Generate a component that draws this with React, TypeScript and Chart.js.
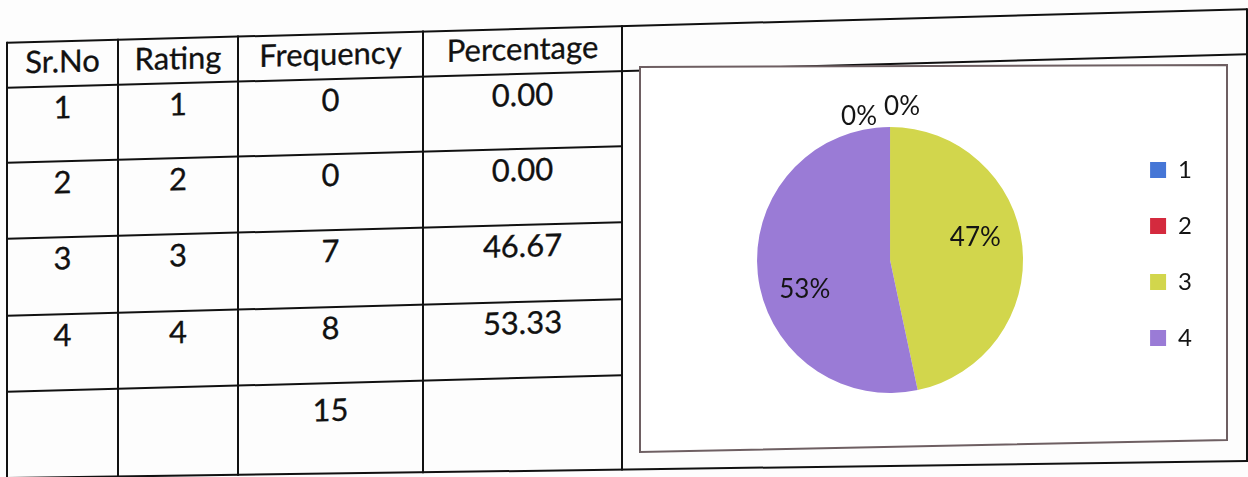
import React, { useEffect, useRef } from 'react';
import { Chart, registerables } from 'chart.js';

Chart.register(...registerables);

// ---------- data ----------
const headers = ['Sr.No', 'Rating', 'Frequency', 'Percentage'];
const srNos = ['1', '2', '3', '4', ''];
const ratings = ['1', '2', '3', '4', ''];
const frequencies = ['0', '0', '7', '8', '15'];
const percentages = ['0.00', '0.00', '46.67', '53.33', ''];

const pieLabels = ['1', '2', '3', '4'];
const pieValues = [0, 0, 7, 8];
const pieColors = ['#4576d6', '#d42a3e', '#d2d64c', '#9a7bd6'];

// ---------- layout / style ----------
const FONT = 'Lato, "Open Sans", sans-serif';
const colX = [7, 118, 238, 423, 622, 1247];
const rowY = [43, 88, 163, 239, 316, 392];
const bottomLeftY = 478;
const bottomRightY = 461;
const textPad = [4, 5, 5, 5, 5, 11];
const SKEW = -1.55;
const T = Math.tan((-SKEW * Math.PI) / 180);

const pctLabelPlugin = {
  id: 'pctLabels',
  afterDatasetsDraw(chart: any) {
    const ctx = chart.ctx;
    const meta = chart.getDatasetMeta(0);
    const data = chart.data.datasets[0].data as number[];
    const total = data.reduce((a: number, b: number) => a + b, 0);
    const size = 26;
    const capHalf = size * 0.46;
    ctx.save();
    ctx.font = `${size}px ${FONT}`;
    ctx.fillStyle = '#141414';
    ctx.textBaseline = 'alphabetic';
    ctx.textAlign = 'center';
    let zeroIdx = 0;
    meta.data.forEach((arc: any, i: number) => {
      const p = arc.getProps(['x', 'y', 'startAngle', 'endAngle', 'outerRadius'], true);
      const txt = Math.round((data[i] / total) * 100) + '%';
      if (data[i] === 0) {
        const a = p.startAngle;
        const dx = zeroIdx === 0 ? -31 : 12;
        const extra = zeroIdx === 0 ? 14 : 24;
        const r = p.outerRadius + extra;
        ctx.fillText(txt, p.x + Math.cos(a) * r + dx, p.y + Math.sin(a) * r + capHalf);
        zeroIdx++;
      } else {
        const mid = (p.startAngle + p.endAngle) / 2 - 0.19;
        const r = p.outerRadius * 0.67;
        ctx.fillText(txt, p.x + Math.cos(mid) * r, p.y + Math.sin(mid) * r + capHalf);
      }
    });
    ctx.restore();
  },
};

function PieChart() {
  const ref = useRef<HTMLCanvasElement>(null);
  useEffect(() => {
    if (!ref.current) return;
    const chart = new Chart(ref.current, {
      type: 'pie',
      data: {
        labels: pieLabels,
        datasets: [
          {
            data: pieValues,
            backgroundColor: pieColors,
            borderWidth: 0,
            radius: 133,
          } as any,
        ],
      },
      options: {
        responsive: false,
        maintainAspectRatio: false,
        animation: false,
        events: [],
        layout: { padding: { left: 21, right: 23, top: 2, bottom: 0 } },
        plugins: {
          tooltip: { enabled: false },
          legend: {
            position: 'right',
            align: 'start',
            title: {
              display: true,
              text: '',
              padding: 20,
              font: { size: 16, lineHeight: 1 },
            },
            labels: {
              boxWidth: 16,
              boxHeight: 16,
              padding: 32,
              color: '#141414',
              font: { family: FONT, size: 24 },
            },
          },
        },
      },
      plugins: [pctLabelPlugin],
    });
    return () => chart.destroy();
  }, []);
  return <canvas ref={ref} width={584} height={382} style={{ display: 'block' }} />;
}

function sy(y: number, x: number) {
  return y - x * T;
}
function bottomAt(x: number) {
  const x0 = colX[0];
  const x1 = colX[colX.length - 1];
  return bottomLeftY + ((x - x0) / (x1 - x0)) * (bottomRightY - bottomLeftY);
}

export default function App() {
  const x0 = colX[0];
  const xData = colX[4];
  const xFull = colX[5];
  const segs: React.ReactNode[] = [];
  rowY.forEach((y, i) => {
    const x2 = i <= 1 ? xFull : xData;
    segs.push(<line key={'h' + i} x1={x0} y1={sy(y, x0)} x2={x2} y2={sy(y, x2)} />);
  });
  segs.push(<line key="hb" x1={x0} y1={bottomAt(x0)} x2={xFull} y2={bottomAt(xFull)} />);
  colX.forEach((x, i) => {
    segs.push(<line key={'v' + i} x1={x} y1={sy(rowY[0], x) - 1} x2={x} y2={bottomAt(x) + 1} />);
  });

  const columns = [srNos, ratings, frequencies, percentages];
  const texts: React.ReactNode[] = [];
  const rowsText = [headers, ...srNos.map((_, r) => columns.map((c) => c[r]))];
  rowsText.forEach((row, r) => {
    row.forEach((t, c) => {
      if (!t) return;
      texts.push(
        <div
          key={`t${r}-${c}`}
          style={{
            position: 'absolute',
            left: colX[c],
            width: colX[c + 1] - colX[c],
            top: rowY[r] + textPad[r],
            textAlign: 'center',
            fontFamily: FONT,
            fontSize: 31,
            lineHeight: '31px',
            color: '#111',
            whiteSpace: 'nowrap',
            WebkitTextStroke: '0.3px #111',
          }}
        >
          {t}
        </div>
      );
    });
  });

  return (
    <div
      style={{
        position: 'fixed',
        left: 0,
        top: 0,
        width: 1248,
        height: 477,
        overflow: 'hidden',
        background: '#fdfdfd',
      }}
    >
      <svg
        width={1248}
        height={477}
        style={{ position: 'absolute', left: 0, top: 0 }}
        stroke="#111"
        strokeWidth={2}
      >
        {segs}
      </svg>
      <div
        style={{
          position: 'absolute',
          left: 0,
          top: 0,
          width: 1248,
          height: 500,
          transform: `skewY(${SKEW}deg)`,
          transformOrigin: '0 0',
        }}
      >
        {texts}
      </div>
      <svg
        width={1248}
        height={477}
        style={{ position: 'absolute', left: 0, top: 0 }}
      >
        <polygon
          points="640,67 1227,65 1227,440 640,452"
          fill="#fff"
          stroke="#6e5f62"
          strokeWidth={2}
        />
      </svg>
      <div
        style={{
          position: 'absolute',
          left: 641,
          top: 68,
          width: 584,
          height: 382,
        }}
      >
        <PieChart />
      </div>
    </div>
  );
}
